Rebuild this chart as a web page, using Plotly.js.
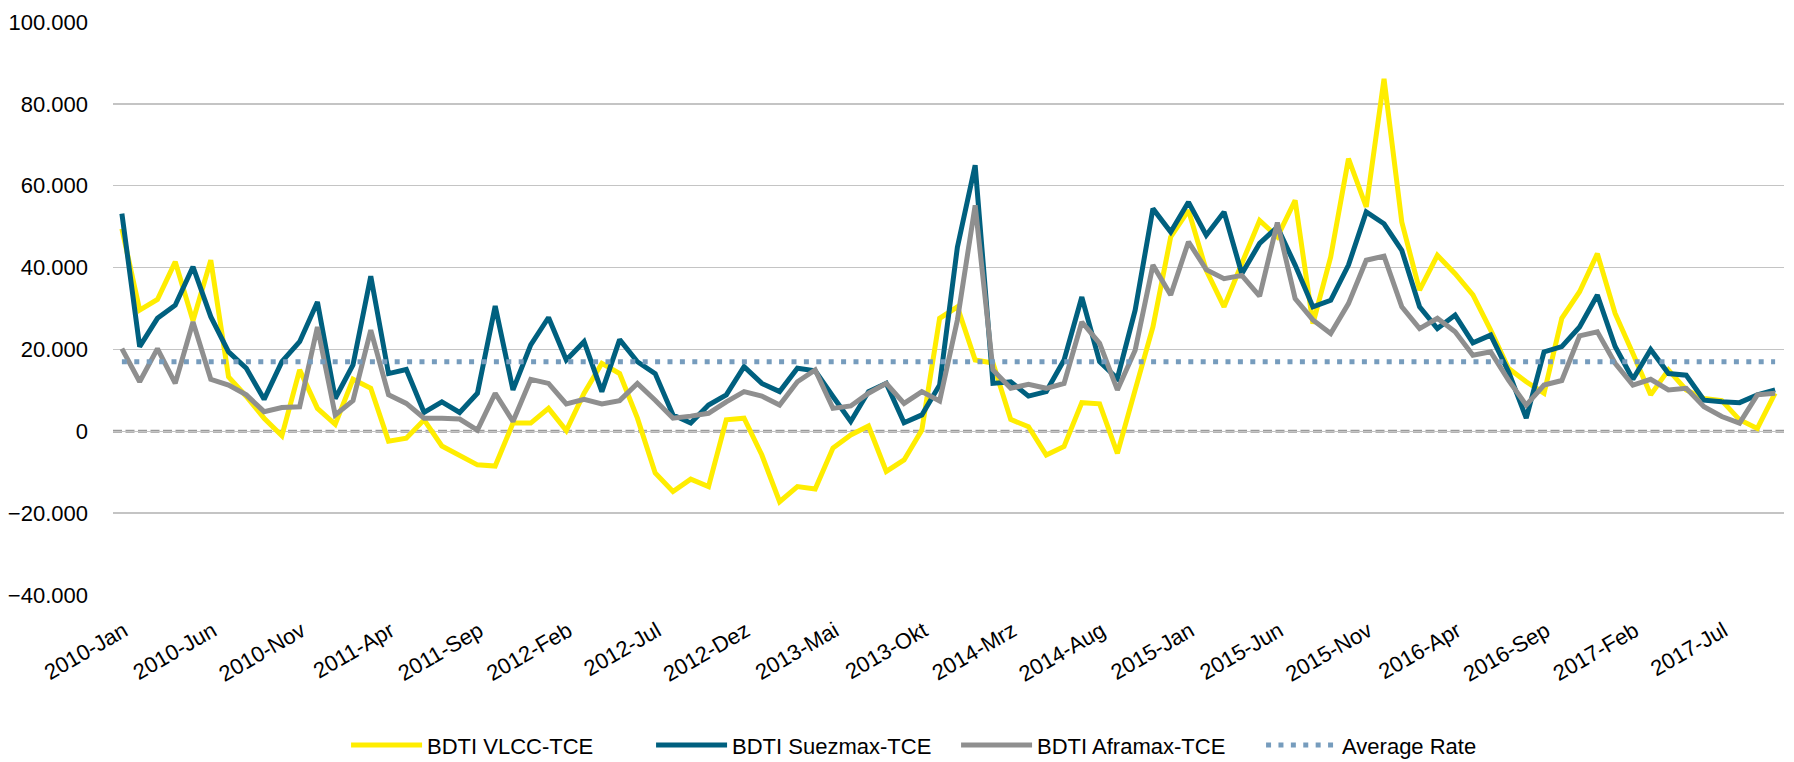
<!DOCTYPE html>
<html>
<head>
<meta charset="utf-8">
<script src="https://cdn.plot.ly/plotly-3.0.1.min.js"></script>
<style>
  html, body { margin: 0; padding: 0; background: #ffffff; }
  #chart { width: 1794px; height: 762px; }
</style>
</head>
<body>
<div id="chart"></div>
<script>
// Month categories 2010-Jan .. 2017-Okt (German abbreviations)
const years = [2010, 2011, 2012, 2013, 2014, 2015, 2016, 2017];
const monthNames = ['Jan', 'Feb', 'Mrz', 'Apr', 'Mai', 'Jun', 'Jul', 'Aug', 'Sep', 'Okt', 'Nov', 'Dez'];
const lastMonthCount = 10; // 2017 runs to Okt
const categories = [];
years.forEach((y, yi) => {
  const n = yi === years.length - 1 ? lastMonthCount : 12;
  for (let m = 0; m < n; m++) categories.push(y + '-' + monthNames[m]);
});

// Tick labels shown on the axis (every fifth month)
const tickLabels = ['2010-Jan', '2010-Jun', '2010-Nov', '2011-Apr', '2011-Sep', '2012-Feb', '2012-Jul',
  '2012-Dez', '2013-Mai', '2013-Okt', '2014-Mrz', '2014-Aug', '2015-Jan', '2015-Jun', '2015-Nov',
  '2016-Apr', '2016-Sep', '2017-Feb', '2017-Jul'];

// BDTI VLCC-TCE (USD/day)
const vlcc = [
  49500, 29600, 32200, 41400, 27000, 41800, 13300, 8500, 3200, -1100, 15000, 5600,
  1700, 12700, 10500, -2400, -1700, 2800, -3600, -6000, -8200, -8500, 2000, 2000,
  5600, 200, 9300, 16600, 14100, 3200, -10200, -14700, -11700, -13500, 2800, 3200,
  -5800, -17200, -13500, -14100, -4100, -900, 1300, -9800, -7000, 300, 27600, 30400,
  17400, 16700, 2900, 1100, -5800, -3700, 7000, 6700, -5400, 10100, 25500, 47500,
  54000, 39300, 30400, 41000, 51500, 47500, 56400, 26300, 42600, 66600, 54800, 86100,
  51100, 34500, 43000, 38500, 33300, 24700, 15400, 12100, 9300, 27600, 34100, 43400,
  28800, 19000, 8900, 15000, 10100, 8000, 7500, 2800, 700, 9300
];

// BDTI Suezmax-TCE (USD/day)
const suezmax = [
  53200, 20700, 27600, 30800, 40200, 28000, 19400, 15400, 7800, 17000, 21900, 31600,
  8000, 16200, 37900, 14100, 15100, 4600, 7200, 4600, 9300, 30600, 10100, 21100,
  27800, 17400, 21900, 9700, 22400, 17000, 14100, 4000, 2000, 6400, 8900, 15800,
  11700, 9700, 15400, 14800, 8500, 2400, 9700, 11700, 2100, 4000, 11300, 45000,
  65000, 11700, 12100, 8600, 9700, 17400, 32800, 17000, 12900, 29600, 54400, 48700,
  56000, 47900, 53600, 38500, 45900, 49900, 40600, 30400, 32000, 40600, 53600, 50700,
  44200, 30400, 25100, 28400, 21600, 23500, 14600, 3200, 19400, 20700, 25500, 33300,
  20700, 12700, 20000, 14100, 13700, 7600, 7200, 7000, 8900, 10100
];

// BDTI Aframax-TCE (USD/day)
const aframax = [
  20200, 12100, 20200, 11700, 26700, 12700, 11300, 8900, 4800, 5800, 6000, 25500,
  4000, 7500, 24700, 8900, 6800, 3200, 3200, 3000, 300, 9300, 2400, 12700,
  11700, 6700, 7800, 6700, 7500, 11700, 7600, 3200, 3700, 4400, 7200, 9700,
  8600, 6400, 12100, 15000, 5600, 6200, 9300, 11700, 6800, 9700, 7400, 27200,
  55200, 15000, 10500, 11500, 10500, 11700, 26700, 21500, 10100, 19800, 40600, 33300,
  46300, 39500, 37300, 38100, 33000, 51000, 32400, 27200, 23900, 31200, 41800, 42800,
  30400, 25100, 27600, 24300, 18600, 19400, 12500, 6400, 11300, 12400, 23300, 24300,
  16600, 11300, 12700, 10100, 10500, 6000, 3600, 2000, 8900, 9300
];

// Average rate across the period (USD/day), drawn from first to last month
const avgRateX = ['2010-Jan', '2017-Okt'];
const avgRateY = [17000, 17000];

const FONT = '"Liberation Sans", Arial, sans-serif';

const traces = [
  { x: categories, y: vlcc, name: 'BDTI VLCC-TCE', type: 'scatter', mode: 'lines',
    line: { color: '#FFED00', width: 5 } },
  { x: categories, y: suezmax, name: 'BDTI Suezmax-TCE', type: 'scatter', mode: 'lines',
    line: { color: '#00607F', width: 5 } },
  { x: categories, y: aframax, name: 'BDTI Aframax-TCE', type: 'scatter', mode: 'lines',
    line: { color: '#8F8F8F', width: 5 } },
  { x: avgRateX, y: avgRateY, name: 'Average Rate', type: 'scatter', mode: 'lines',
    line: { color: '#769CBD', width: 5, dash: '5px,7.4px' } }
];

const layout = {
  width: 1794,
  height: 762,
  paper_bgcolor: '#ffffff',
  plot_bgcolor: '#ffffff',
  separators: ',.',
  font: { family: FONT, size: 22, color: '#000000' },
  margin: { l: 113, r: 10, t: 22, b: 167, pad: 0 },
  showlegend: true,
  legend: {
    orientation: 'h',
    xref: 'container', yref: 'container',
    x: 0.1929, xanchor: 'left',
    y: 0.022, yanchor: 'middle',
    font: { family: FONT, size: 22, color: '#000000' },
    itemwidth: 71,
    entrywidthmode: 'pixels',
    entrywidth: 219,
    traceorder: 'normal'
  },
  xaxis: {
    type: 'category',
    categoryorder: 'array',
    categoryarray: categories,
    range: [-0.5, categories.length - 0.5],
    tickmode: 'array',
    tickvals: tickLabels,
    ticktext: tickLabels,
    tickangle: -30,
    showgrid: false,
    zeroline: false,
    showline: false,
    ticks: '',
    ticklabelstandoff: 18,
    ticklabelshift: 2,
    tickfont: { family: FONT, size: 22, color: '#000000' }
  },
  yaxis: {
    range: [-40000, 100000],
    tickmode: 'linear',
    tick0: 0,
    dtick: 20000,
    tickformat: ',.0f',
    showgrid: true,
    gridcolor: '#C4C4C4',
    gridwidth: 1.3,
    zeroline: false,
    showline: false,
    ticks: '',
    ticklabelstandoff: 24,
    tickfont: { family: FONT, size: 22, color: '#000000' }
  },
  shapes: [
    { type: 'line', xref: 'paper', yref: 'y', x0: 0, x1: 1, y0: 0, y1: 0,
      layer: 'below', line: { color: '#9A9A9A', width: 3, dash: '9px,3.5px' } }
  ]
};

Plotly.newPlot('chart', traces, layout, { displayModeBar: false, staticPlot: true });
</script>
</body>
</html>
